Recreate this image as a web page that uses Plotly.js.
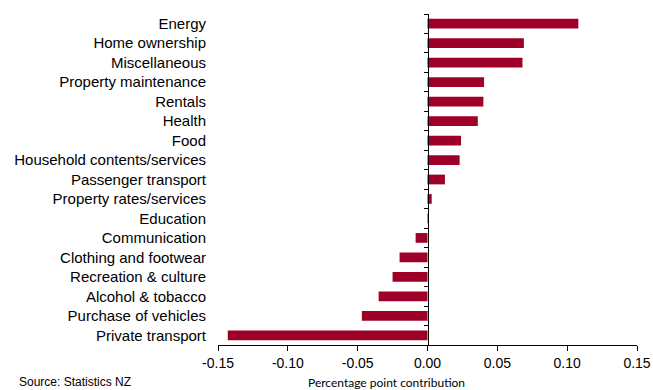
<!DOCTYPE html>
<html><head><meta charset="utf-8">
<script src="https://cdn.plot.ly/plotly-3.0.1.min.js"></script>
<style>html,body{margin:0;padding:0;background:#fff}#c{width:653px;height:390px}</style>
</head><body><div id="c"></div>
<script>
const categories = ["Energy","Home ownership","Miscellaneous","Property maintenance","Rentals","Health","Food","Household contents/services","Passenger transport","Property rates/services","Education","Communication","Clothing and footwear","Recreation & culture","Alcohol & tobacco","Purchase of vehicles","Private transport"];
const contributions = [0.108,0.069,0.068,0.0405,0.040,0.036,0.024,0.023,0.0125,0.003,0.0007,-0.0085,-0.020,-0.025,-0.035,-0.047,-0.143];
const xTickVals = [-0.15,-0.10,-0.05,0.00,0.05,0.10,0.15];
const xTickText = ["-0.15","-0.10","-0.05","0.00","0.05","0.10","0.15"];
const barColor = "#9E0028";

const traces = [
  {type:"bar", orientation:"h", y:categories, x:contributions, xaxis:"x", yaxis:"y",
   marker:{color:barColor}, width:0.5, hoverinfo:"x+y"},
  {type:"bar", orientation:"h", y:categories, x:contributions, xaxis:"x", yaxis:"y2",
   marker:{color:"rgba(0,0,0,0)"}, width:0.5, hoverinfo:"skip", showlegend:false}
];
const L = 218, R = 16;
const plotW = 653 - L - R;
const layout = {
  width:653, height:390,
  margin:{l:L, r:R, t:14, b:45},
  paper_bgcolor:"#fff", plot_bgcolor:"#fff",
  showlegend:false,
  font:{family:"Liberation Sans, Arial, sans-serif", color:"#000"},
  xaxis:{range:[-0.15,0.15], tickvals:xTickVals, ticktext:xTickText,
         showgrid:false, zeroline:false, showline:true, linecolor:"#000", linewidth:1,
         ticks:"outside", ticklen:5, tickcolor:"#000", tickfont:{size:14}},
  yaxis:{type:"category", range:[16.5,-0.5], showgrid:false, zeroline:false, showline:false,
         ticks:"", tickfont:{size:15}, ticklabelstandoff:11},
  yaxis2:{type:"category", overlaying:"y", anchor:"free", position:0.5, side:"left",
          range:[16.5,-0.5], showgrid:false, zeroline:false, showline:true, linecolor:"#000", linewidth:1,
          ticks:"outside", tickson:"boundaries", ticklen:4, tickcolor:"#000", showticklabels:false},
  annotations:[
    {text:"Percentage point contribution", xref:"paper", yref:"paper", x:(386-L)/plotW, y:0,
     xanchor:"center", yanchor:"middle", yshift:-37, showarrow:false,
     font:{family:"Lato, sans-serif", size:12}},
    {text:"Source: Statistics NZ", xref:"paper", yref:"paper", x:(17-L)/plotW, y:0,
     xanchor:"left", yanchor:"middle", yshift:-37, showarrow:false, font:{size:12}}
  ]
};
Plotly.newPlot("c", traces, layout, {displayModeBar:false, staticPlot:true});
</script></body></html>
